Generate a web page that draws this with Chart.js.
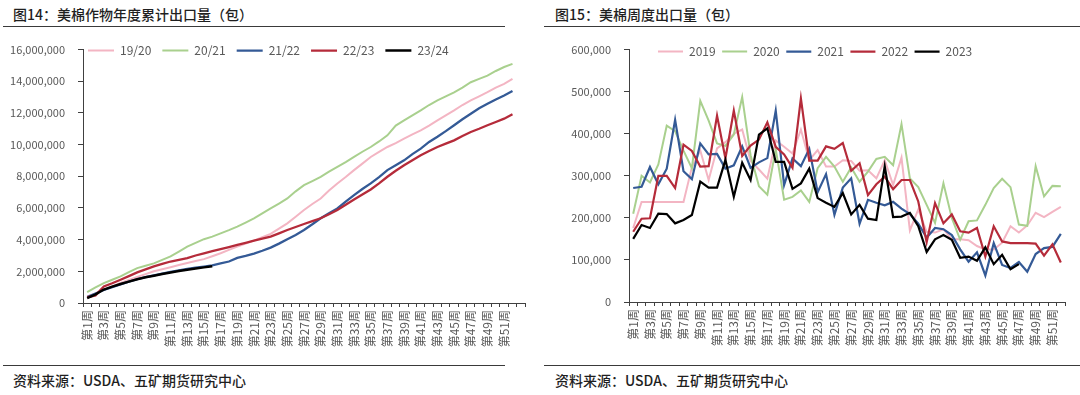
<!DOCTYPE html>
<html>
<head>
<meta charset="utf-8">
<script src="https://cdn.jsdelivr.net/npm/chart.js@4/dist/chart.umd.min.js"></script>
<style>
  body { margin:0; width:1080px; height:395px; background:#fff; position:relative; overflow:hidden;
         font-family:"Noto Sans CJK SC","Noto Sans",sans-serif; }
  .title { position:absolute; top:4px; font-size:14px; line-height:20px; color:#1f1f1f; font-weight:500; }
  .rule { position:absolute; height:0; border-top:1.5px solid #3a3a3a; }
  .src { position:absolute; top:370px; font-size:14px; line-height:20px; color:#1f1f1f; font-weight:500; }
  .box { position:absolute; top:30px; width:540px; height:330px; }
</style>
</head>
<body>
<div class="title" style="left:13px">图14：美棉作物年度累计出口量（包）</div>
<div class="rule" style="left:3px;width:502px;top:26px"></div>
<div class="title" style="left:555px">图15：美棉周度出口量（包）</div>
<div class="rule" style="left:544px;width:536px;top:26px"></div>

<div class="box" style="left:0"><canvas id="cum" width="540" height="330"></canvas></div>
<div class="box" style="left:540px"><canvas id="weekly" width="540" height="330"></canvas></div>

<div class="rule" style="left:3px;width:502px;top:365px"></div>
<div class="rule" style="left:544px;width:536px;top:365px"></div>
<div class="src" style="left:13px">资料来源：USDA、五矿期货研究中心</div>
<div class="src" style="left:555px">资料来源：USDA、五矿期货研究中心</div>

<script>
// 图14 累计出口量，单位：包
var weeksCum = Array.from({length: 53}, (_, i) => '第' + (i + 1) + '周');
var cum1920 = [420000,600000,840000,1050000,1260000,1450000,1640000,1820000,2000000,2130000,
  2260000,2400000,2520000,2650000,2770000,2950000,3140000,3350000,3560000,3750000,
  3940000,4150000,4360000,4700000,5030000,5450000,5870000,6250000,6600000,7100000,
  7550000,7950000,8390000,8800000,9220000,9540000,9850000,10100000,10380000,10650000,
  10900000,11200000,11530000,11850000,12160000,12500000,12790000,13050000,13310000,13600000,
  13840000,14150000];
var cum2021 = [690000,980000,1260000,1470000,1680000,1950000,2200000,2350000,2500000,2720000,
  2940000,3250000,3560000,3800000,4030000,4190000,4400000,4600000,4820000,5080000,
  5350000,5660000,5970000,6280000,6600000,7050000,7440000,7700000,7970000,8300000,
  8600000,8900000,9220000,9550000,9850000,10200000,10590000,11200000,11530000,11850000,
  12160000,12500000,12790000,13050000,13300000,13600000,13940000,14150000,14360000,14650000,
  14900000,15100000];
var cum2122 = [380000,600000,820000,1000000,1180000,1350000,1500000,1630000,1750000,1860000,
  1970000,2060000,2150000,2230000,2300000,2380000,2500000,2620000,2850000,2970000,
  3120000,3300000,3500000,3750000,4030000,4300000,4610000,4970000,5350000,5660000,
  5970000,6400000,6810000,7200000,7550000,7950000,8390000,8700000,9010000,9400000,
  9750000,10170000,10500000,10850000,11220000,11600000,11950000,12300000,12580000,12850000,
  13100000,13380000];
var cum2223 = [360000,480000,1050000,1250000,1470000,1700000,1930000,2120000,2310000,2470000,
  2620000,2720000,2830000,3000000,3140000,3270000,3400000,3530000,3670000,3800000,
  3940000,4060000,4190000,4400000,4610000,4800000,4990000,5170000,5350000,5600000,
  5870000,6200000,6540000,6850000,7170000,7550000,7970000,8350000,8700000,9020000,
  9330000,9600000,9850000,10060000,10270000,10550000,10800000,11000000,11220000,11430000,
  11640000,11920000];
var cum2324 = [310000,550000,850000,1030000,1200000,1350000,1500000,1620000,1720000,1830000,
  1930000,2020000,2100000,2180000,2250000,2320000];
var cumTicks = [0, 2000000, 4000000, 6000000, 8000000, 10000000, 12000000, 14000000, 16000000];

// 图15 周度出口量，单位：包
var weeksWk = Array.from({length: 52}, (_, i) => '第' + (i + 1) + '周');
var wk2019 = [176000,238000,238000,238000,238000,238000,238000,320000,360000,290000,
  365000,380000,400000,410000,335000,315000,293000,384000,369000,353000,
  410000,337000,361000,322000,322000,337000,335000,312000,313000,294000,
  337000,278000,343000,170000,220000,167000,165000,173000,149000,149000,
  147000,133000,125000,125000,141000,180000,165000,182000,212000,202000,
  214000,226000];
var wk2020 = [210000,300000,284000,327000,419000,406000,360000,318000,478000,431000,
  377000,371000,398000,487000,349000,275000,255000,363000,243000,250000,
  265000,238000,318000,345000,322000,286000,320000,286000,310000,340000,
  345000,325000,423000,294000,273000,231000,188000,282000,200000,148000,
  192000,194000,231000,271000,293000,273000,184000,181000,323000,251000,
  276000,275000];
var wk2021 = [271000,274000,321000,280000,317000,433000,311000,292000,377000,351000,
  352000,317000,325000,370000,319000,332000,342000,455000,278000,341000,
  323000,364000,261000,304000,207000,272000,294000,186000,243000,236000,
  230000,238000,222000,209000,186000,153000,176000,173000,159000,125000,
  96000,118000,63000,140000,88000,81000,95000,72000,114000,128000,
  131000,162000];
var wk2022 = [167000,198000,199000,300000,300000,271000,374000,359000,322000,323000,
  443000,341000,455000,347000,372000,386000,427000,369000,351000,319000,
  484000,336000,336000,370000,364000,378000,312000,330000,254000,280000,
  298000,268000,290000,290000,239000,142000,235000,187000,208000,168000,
  165000,176000,108000,180000,144000,140000,140000,140000,139000,110000,
  137000,94000];
var wk2023 = [150000,183000,176000,210000,209000,187000,195000,207000,286000,272000,
  272000,338000,250000,331000,290000,398000,413000,333000,333000,269000,
  282000,317000,247000,236000,226000,259000,208000,231000,198000,195000,
  323000,202000,203000,212000,180000,119000,149000,159000,148000,105000,
  108000,98000,130000,90000,112000,78000,90000];
var wkTicks = [0, 100000, 200000, 300000, 400000, 500000, 600000];

var PINK = '#F3B5C3', GREEN = '#A9D08E', BLUE = '#345A96', RED = '#B52B3A', BLACK = '#000000';
var FONT = '"Noto Sans CJK SC", "Noto Sans", sans-serif';
var GREY = '#595959';

Chart.defaults.font.family = FONT;
Chart.defaults.color = GREY;

// 图例放在坐标区内左上角，横排
var legendShift = {
  id: 'legendShift',
  beforeLayout: function (chart) {
    if (chart.legend) chart.legend.isHorizontal = function () { return true; };
  },
  afterLayout: function (chart, args, opts) {
    var lg = chart.legend;
    if (!lg) return;
    var w = lg.right - lg.left;
    lg.left = chart.chartArea.left + (opts.dx || 0);
    lg.right = lg.left + w;
    lg.top += opts.dy || 0;
    lg.bottom += opts.dy || 0;
  }
};

function line(label, data, color, width, order) {
  return { label: label, data: data, borderColor: color, backgroundColor: color,
           borderWidth: width, pointRadius: 0, tension: 0, order: order };
}

function makeOptions(o) {
  return {
    responsive: false, animation: false, devicePixelRatio: 1,
    layout: { padding: { top: o.top, right: 15, bottom: 0, left: 0 } },
    plugins: {
      legend: {
        position: 'chartArea', align: 'start',
        labels: { usePointStyle: true, pointStyle: 'line', pointStyleWidth: o.lineLen,
                  padding: o.pad, color: GREY, font: { size: 12 },
                  sort: function (a, b) { return a.datasetIndex - b.datasetIndex; } }
      },
      legendShift: { dx: o.dx, dy: o.dy },
      tooltip: { enabled: false }
    },
    scales: {
      x: {
        offset: true,
        grid: { drawOnChartArea: false, offset: true, tickLength: 4, color: '#404040' },
        border: { color: '#404040', width: 1 },
        ticks: {
          autoSkip: false, minRotation: 90, maxRotation: 90, padding: 3,
          color: GREY, font: { size: 12 },
          callback: function (v, i) { return (i % 2 === 0 && i < 52) ? this.getLabelForValue(v) : ''; }
        },
        afterFit: function (s) { s.height = o.xh; }
      },
      y: {
        min: 0, max: o.max,
        afterBuildTicks: function (s) { s.ticks = o.ticks.map(function (v) { return { value: v }; }); },
        grid: { drawOnChartArea: false, tickLength: 5, color: '#404040' },
        border: { color: '#404040', width: 1 },
        ticks: { padding: 13, color: GREY, font: { size: 11 },
                 callback: function (v) { return v.toLocaleString('en-US'); } },
        afterFit: function (s) { s.width = o.yw; }
      }
    }
  };
}

new Chart(document.getElementById('cum'), {
  type: 'line',
  data: {
    labels: weeksCum,
    datasets: [
      line('19/20', cum1920, PINK, 2, 5),
      line('20/21', cum2021, GREEN, 2, 4),
      line('21/22', cum2122, BLUE, 2.3, 3),
      line('22/23', cum2223, RED, 2.3, 2),
      line('23/24', cum2324, BLACK, 2.5, 1)
    ]
  },
  options: makeOptions({ top: 19, xh: 57, yw: 83, max: 16000000, ticks: cumTicks,
                         lineLen: 26, pad: 11, dx: -6, dy: -16 }),
  plugins: [legendShift]
});

new Chart(document.getElementById('weekly'), {
  type: 'line',
  data: {
    labels: weeksWk,
    datasets: [
      line('2019', wk2019, PINK, 2, 5),
      line('2020', wk2020, GREEN, 2, 4),
      line('2021', wk2021, BLUE, 2.2, 3),
      line('2022', wk2022, RED, 2.2, 2),
      line('2023', wk2023, BLACK, 2.2, 1)
    ]
  },
  options: makeOptions({ top: 17, xh: 58, yw: 89, max: 600000, ticks: wkTicks,
                         lineLen: 25, pad: 6.5, dx: 22.5, dy: -10.5 }),
  plugins: [legendShift]
});
</script>
</body>
</html>
